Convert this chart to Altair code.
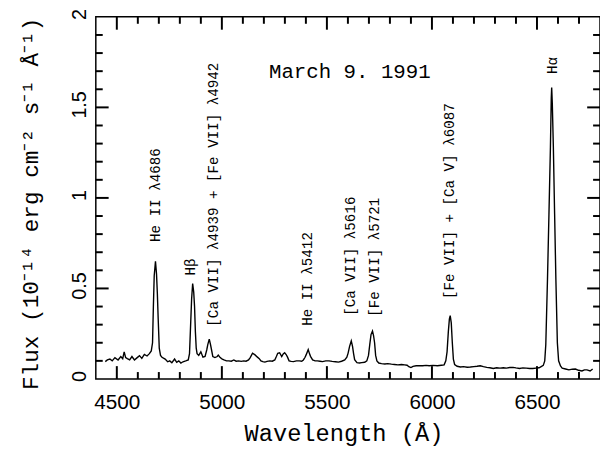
import altair as alt
import pandas as pd

wavelength = [
    4445, 4455, 4467, 4478, 4491, 4506, 4519, 4528, 4535, 4542, 4550, 4561, 4572, 4584, 4597,
    4608, 4619, 4631, 4644, 4655, 4664, 4670, 4674, 4678, 4684, 4689, 4693, 4697, 4702, 4708,
    4715, 4730, 4742, 4752, 4762, 4775, 4785, 4795, 4805, 4815, 4828, 4840, 4846, 4850, 4856,
    4861, 4866, 4870, 4874, 4878, 4882, 4890, 4900, 4910, 4920, 4928, 4933, 4940, 4946, 4951,
    4957, 4967, 4978, 4983, 4992, 5002, 5010, 5022, 5033, 5045, 5057, 5068, 5080, 5092, 5104,
    5115, 5127, 5135, 5146, 5158, 5168, 5178, 5186, 5195, 5205, 5215, 5228, 5240, 5252, 5260,
    5266, 5275, 5285, 5292, 5299, 5306, 5312, 5320, 5330, 5341, 5355, 5369, 5380, 5388, 5396,
    5401, 5411, 5417, 5422, 5432, 5444, 5455, 5467, 5479, 5495, 5510, 5525, 5541, 5555, 5570,
    5585, 5595, 5601, 5608, 5616, 5622, 5627, 5632, 5643, 5655, 5666, 5680, 5690, 5698, 5704,
    5710, 5717, 5722, 5727, 5732, 5738, 5747, 5760, 5776, 5790, 5807, 5822, 5838, 5855, 5870,
    5882, 5890, 5900, 5910, 5925, 5940, 5956, 5972, 5987, 6005, 6026, 6045, 6058, 6066, 6072,
    6078, 6083, 6087, 6092, 6097, 6102, 6108, 6120, 6136, 6150, 6168, 6183, 6200, 6215, 6230,
    6245, 6261, 6276, 6292, 6308, 6324, 6340, 6355, 6370, 6386, 6400, 6417, 6433, 6449, 6465,
    6480, 6495, 6510, 6522, 6530, 6537, 6542, 6550, 6557, 6564, 6568, 6570, 6573, 6578, 6584,
    6590, 6597, 6603, 6612, 6620, 6636, 6652, 6668, 6683, 6698, 6714, 6726, 6738, 6753, 6765,
]
flux = [
    0.096, 0.105, 0.110, 0.100, 0.118, 0.105, 0.124, 0.112, 0.150, 0.118, 0.112, 0.105, 0.124, 0.105, 0.118,
    0.129, 0.114, 0.136, 0.127, 0.140, 0.155, 0.200, 0.400, 0.570, 0.650, 0.580, 0.470, 0.330, 0.170, 0.130,
    0.120, 0.110, 0.095, 0.100, 0.090, 0.110, 0.092, 0.100, 0.088, 0.095, 0.100, 0.105, 0.140, 0.260, 0.440,
    0.527, 0.480, 0.400, 0.260, 0.170, 0.140, 0.130, 0.150, 0.120, 0.124, 0.160, 0.190, 0.220, 0.190, 0.160,
    0.124, 0.118, 0.124, 0.132, 0.118, 0.110, 0.105, 0.100, 0.100, 0.098, 0.105, 0.098, 0.100, 0.097, 0.100,
    0.098, 0.105, 0.118, 0.142, 0.133, 0.122, 0.112, 0.100, 0.096, 0.093, 0.097, 0.100, 0.098, 0.105, 0.125,
    0.142, 0.145, 0.124, 0.138, 0.145, 0.135, 0.122, 0.100, 0.097, 0.096, 0.100, 0.100, 0.098, 0.105, 0.120,
    0.133, 0.162, 0.140, 0.125, 0.105, 0.100, 0.100, 0.098, 0.096, 0.100, 0.100, 0.097, 0.095, 0.093, 0.098,
    0.105, 0.120, 0.143, 0.180, 0.210, 0.180, 0.140, 0.107, 0.090, 0.088, 0.090, 0.092, 0.100, 0.130, 0.190,
    0.245, 0.265, 0.240, 0.200, 0.130, 0.100, 0.088, 0.085, 0.083, 0.085, 0.082, 0.080, 0.078, 0.080, 0.078,
    0.076, 0.068, 0.063, 0.070, 0.073, 0.074, 0.073, 0.075, 0.073, 0.075, 0.073, 0.076, 0.078, 0.100, 0.150,
    0.260, 0.330, 0.350, 0.310, 0.200, 0.110, 0.080, 0.070, 0.066, 0.068, 0.065, 0.066, 0.068, 0.070, 0.073,
    0.068, 0.064, 0.062, 0.058, 0.062, 0.060, 0.062, 0.060, 0.063, 0.064, 0.061, 0.058, 0.061, 0.060, 0.058,
    0.058, 0.060, 0.062, 0.070, 0.075, 0.100, 0.190, 0.550, 0.910, 1.280, 1.550, 1.610, 1.520, 1.280, 0.910,
    0.550, 0.200, 0.100, 0.072, 0.060, 0.055, 0.050, 0.054, 0.055, 0.048, 0.044, 0.050, 0.050, 0.044, 0.055,
]

label_text = [
    "He II λ4686",
    "Hβ",
    "[Ca VII] λ4939 + [Fe VII] λ4942",
    "He II λ5412",
    "[Ca VII] λ5616",
    "[Fe VII] λ5721",
    "[Fe VII] + [Ca V] λ6087",
    "Hα",
]
label_wl = [4688, 4854, 4964, 5408, 5616, 5731, 6086, 6578]
label_flux = [0.757, 0.572, 0.289, 0.294, 0.349, 0.343, 0.441, 1.684]

date_text = ["March 9. 1991"]
date_wl = [5609]
date_flux = [1.695]

x_major = [4500, 5000, 5500, 6000, 6500]
x_minor = [4600, 4700, 4800, 4900, 5100, 5200, 5300, 5400, 5600,
           5700, 5800, 5900, 6100, 6200, 6300, 6400, 6600, 6700]
y_major = [0.5, 1, 1.5]
y_minor = [0.1, 0.2, 0.3, 0.4, 0.6, 0.7, 0.8, 0.9,
           1.1, 1.2, 1.3, 1.4, 1.6, 1.7, 1.8, 1.9]

X0, X1 = 4400, 6800
Y0, Y1 = 0, 2
W, H = 511, 367
MAJ, MIN = 13, 7  # tick lengths in pixels
TW = 2.0          # tick stroke width

spec = pd.DataFrame({"wl": wavelength, "flux": flux})
labels = pd.DataFrame({"wl": label_wl, "flux": label_flux, "text": label_text})
date = pd.DataFrame({"wl": date_wl, "flux": date_flux, "text": date_text})
xmaj = pd.DataFrame({"wl": x_major})
xmin = pd.DataFrame({"wl": x_minor})
ymaj = pd.DataFrame({"flux": y_major})
ymin = pd.DataFrame({"flux": y_minor})

xs = alt.Scale(domain=[X0, X1], nice=False, zero=False)
ys = alt.Scale(domain=[Y0, Y1], nice=False, zero=False)

x_main = alt.Axis(orient="bottom", values=x_major, format="d", tickSize=0,
                  labelPadding=13, labelFont="Liberation Sans", labelFontSize=21,
                  labelColor="black", labelFlush=False, domain=False, grid=False,
                  title="Wavelength (Å)", titleFont="Liberation Mono", titleFontSize=24,
                  titleFontWeight="normal", titleColor="black", titleX=251, titleY=55,
                  titleAlign="center", titleBaseline="middle")
y_main = alt.Axis(orient="left", values=[0, 0.5, 1, 1.5, 2], format="~g", tickSize=0,
                  labelAngle=270, labelAlign="center", labelBaseline="middle",
                  labelPadding=16, labelOffset=-3, labelFont="Liberation Sans",
                  labelFontSize=20, labelColor="black", labelFlush=False,
                  domain=False, grid=False,
                  title="Flux (10⁻¹⁴ erg cm⁻² s⁻¹ Å⁻¹)", titleFont="Liberation Mono",
                  titleFontSize=23, titleFontWeight="normal", titleColor="black",
                  titleAngle=270, titleX=-66, titleY=189, titleAlign="center",
                  titleBaseline="middle")

line = alt.Chart(spec).mark_line(color="black", strokeWidth=1.4).encode(
    x=alt.X("wl:Q", scale=xs, axis=x_main),
    y=alt.Y("flux:Q", scale=ys, axis=y_main),
)

text_layer = alt.Chart(labels).mark_text(
    angle=270, align="left", baseline="middle", font="Liberation Mono",
    fontSize=14.4, color="black"
).encode(
    x=alt.X("wl:Q", scale=xs),
    y=alt.Y("flux:Q", scale=ys),
    text="text:N",
)

date_layer = alt.Chart(date).mark_text(
    align="center", baseline="middle", font="Liberation Mono", fontSize=21, color="black"
).encode(
    x=alt.X("wl:Q", scale=xs),
    y=alt.Y("flux:Q", scale=ys),
    text="text:N",
)


def xticks(df, length, top):
    y0, y1 = (0, length) if top else (H, H - length)
    return alt.Chart(df).mark_rule(color="black", strokeWidth=TW).encode(
        x=alt.X("wl:Q", scale=xs),
        y=alt.value(y0), y2=alt.value(y1),
    )


def yticks(df, length, right):
    x0, x1 = (W, W - length) if right else (0, length)
    return alt.Chart(df).mark_rule(color="black", strokeWidth=TW).encode(
        y=alt.Y("flux:Q", scale=ys),
        x=alt.value(x0), x2=alt.value(x1),
    )


ticks = [
    xticks(xmaj, MAJ, False), xticks(xmin, MIN, False),
    xticks(xmaj, MAJ, True), xticks(xmin, MIN, True),
    yticks(ymaj, MAJ, False), yticks(ymin, MIN, False),
    yticks(ymaj, MAJ, True), yticks(ymin, MIN, True),
]

chart = alt.layer(line, text_layer, date_layer, *ticks).properties(
    width=W, height=H,
    autosize=alt.AutoSizeParams(type="none"),
    padding={"left": 89, "top": 6, "right": 0, "bottom": 68},
    background="white",
).configure_view(stroke="black", strokeWidth=1.5)

chart.save("out.html", embed_options={"renderer": "svg", "actions": False})
